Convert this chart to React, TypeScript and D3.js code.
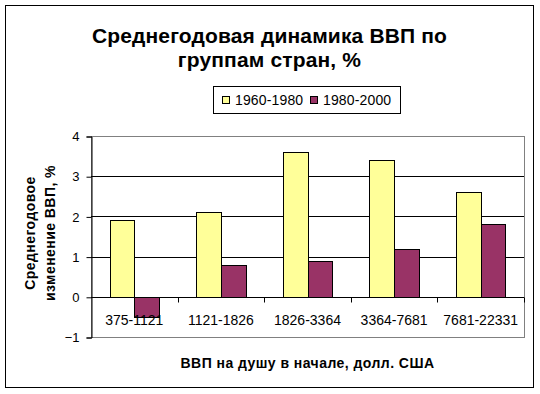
import React, { useRef, useEffect } from 'react';
import * as d3 from 'd3';

const categories = ['375-1121', '1121-1826', '1826-3364', '3364-7681', '7681-22331'];
const seriesNames = ['1960-1980', '1980-2000'];
const values1960 = [1.9, 2.1, 3.6, 3.4, 2.6];
const values1980 = [-0.5, 0.8, 0.9, 1.2, 1.8];
const yTicks = [-1, 0, 1, 2, 3, 4];
const colors = ['#FFFF99', '#993366'];

const App = () => {
  const chartRef = useRef<SVGSVGElement | null>(null);

  useEffect(() => {
    if (!chartRef.current) return;
    const svg = d3.select(chartRef.current);
    svg.selectAll('*').remove();

    const W = 540;
    const H = 394;
    const font = 'Liberation Sans, Arial, sans-serif';

    // outer frame
    svg.append('rect').attr('width', W).attr('height', H).attr('fill', '#fff');
    svg
      .append('rect')
      .attr('x', 5.5)
      .attr('y', 5.5)
      .attr('width', 528)
      .attr('height', 382)
      .attr('fill', 'none')
      .attr('stroke', '#000')
      .attr('stroke-width', 1);

    // title
    const title = svg
      .append('text')
      .attr('text-anchor', 'middle')
      .attr('font-family', font)
      .attr('font-weight', 'bold')
      .attr('font-size', 21)
      .attr('letter-spacing', 0.15)
      .attr('fill', '#000');
    title.append('tspan').attr('x', 269.5).attr('y', 42.5).text('Среднегодовая динамика ВВП по');
    title.append('tspan').attr('x', 269.5).attr('y', 67).text('группам стран, %');

    // legend
    const legend = svg.append('g');
    legend
      .append('rect')
      .attr('x', 213.5)
      .attr('y', 86.5)
      .attr('width', 187)
      .attr('height', 27)
      .attr('fill', '#fff')
      .attr('stroke', '#000');
    const legendX = [222, 310];
    seriesNames.forEach((name, i) => {
      legend
        .append('rect')
        .attr('x', legendX[i] + 0.5)
        .attr('y', 96.5)
        .attr('width', 7)
        .attr('height', 7)
        .attr('fill', colors[i])
        .attr('stroke', '#000');
      legend
        .append('text')
        .attr('x', legendX[i] + 13)
        .attr('y', 105)
        .attr('font-family', font)
        .attr('font-size', 14)
        .attr('letter-spacing', 0.15)
        .attr('fill', '#000')
        .text(name);
    });

    // plot area
    const left = 91;
    const right = 524;
    const top = 136;
    const bottom = 337;

    const x = d3.scaleBand<string>().domain(categories).range([left, right]);
    const inner = d3
      .scaleBand<string>()
      .domain(seriesNames)
      .range([0, x.bandwidth()])
      .paddingInner(0)
      .paddingOuter(0.75);
    const y = d3.scaleLinear().domain([-1, 4]).range([bottom, top]);

    // plot border (gray)
    svg
      .append('rect')
      .attr('x', left + 0.5)
      .attr('y', top + 0.5)
      .attr('width', right - left)
      .attr('height', bottom - top)
      .attr('fill', 'none')
      .attr('stroke', '#808080');

    // gridlines
    svg
      .append('g')
      .selectAll('line')
      .data(yTicks.filter((t) => t > -1 && t < 4))
      .join('line')
      .attr('x1', left)
      .attr('x2', right)
      .attr('y1', (d) => Math.round(y(d)) + 0.5)
      .attr('y2', (d) => Math.round(y(d)) + 0.5)
      .attr('stroke', '#000');

    // bars
    const rows = categories.map((c, i) => ({ c, vals: [values1960[i], values1980[i]] }));
    rows.forEach((row) => {
      row.vals.forEach((v, j) => {
        const x0 = Math.round((x(row.c) as number) + (inner(seriesNames[j]) as number));
        const x1 = Math.round((x(row.c) as number) + (inner(seriesNames[j]) as number) + inner.bandwidth());
        const y0 = Math.round(y(Math.max(0, v)));
        const y1 = Math.round(y(Math.min(0, v)));
        svg
          .append('rect')
          .attr('x', x0 + 0.5)
          .attr('y', y0 + 0.5)
          .attr('width', x1 - x0)
          .attr('height', y1 - y0)
          .attr('fill', colors[j])
          .attr('stroke', '#000');
      });
    });

    // y axis
    const yAxis = svg
      .append('g')
      .attr('transform', `translate(${left + 0.5},0.5)`)
      .call(
        d3
          .axisLeft(y)
          .tickValues(yTicks)
          .tickSize(5)
          .tickPadding(7)
          .tickFormat(d3.format('d'))
      );
    yAxis.selectAll('path, line').attr('stroke', '#000');
    yAxis
      .selectAll('text')
      .attr('font-family', font)
      .attr('font-size', 13)
      .attr('fill', '#000');

    // x axis at zero
    const y0 = Math.round(y(0)) + 0.5;
    svg
      .append('line')
      .attr('x1', left)
      .attr('x2', right)
      .attr('y1', y0)
      .attr('y2', y0)
      .attr('stroke', '#000');
    svg
      .append('g')
      .selectAll('line')
      .data(categories.slice(1).concat(['end']))
      .join('line')
      .attr('x1', (d) => Math.round(d === 'end' ? right : (x(d) as number)) + 0.5)
      .attr('x2', (d) => Math.round(d === 'end' ? right : (x(d) as number)) + 0.5)
      .attr('y1', y0)
      .attr('y2', y0 + 5)
      .attr('stroke', '#000');

    svg
      .append('g')
      .selectAll('text')
      .data(categories)
      .join('text')
      .attr('x', (d) => (x(d) as number) + x.bandwidth() / 2)
      .attr('y', 324.5)
      .attr('text-anchor', 'middle')
      .attr('font-family', font)
      .attr('font-size', 14)
      .attr('fill', '#000')
      .text((d) => d);

    // axis titles
    svg
      .append('text')
      .attr('x', (left + right) / 2)
      .attr('y', 368)
      .attr('text-anchor', 'middle')
      .attr('font-family', font)
      .attr('font-weight', 'bold')
      .attr('font-size', 14)
      .attr('letter-spacing', 0.45)
      .attr('fill', '#000')
      .text('ВВП на душу в начале, долл. США');

    const yTitle = svg
      .append('text')
      .attr('transform', 'translate(0,233) rotate(-90)')
      .attr('text-anchor', 'middle')
      .attr('font-family', font)
      .attr('font-weight', 'bold')
      .attr('font-size', 14)
      .attr('letter-spacing', 0.45)
      .attr('fill', '#000');
    yTitle.append('tspan').attr('x', 0).attr('y', 35).text('Среднегодовое');
    yTitle.append('tspan').attr('x', 0).attr('y', 55).text('изменение ВВП, %');
  }, []);

  return (
    <svg
      ref={chartRef}
      width={540}
      height={394}
      style={{ position: 'absolute', left: 0, top: 0, display: 'block' }}
    />
  );
};

export default App;
